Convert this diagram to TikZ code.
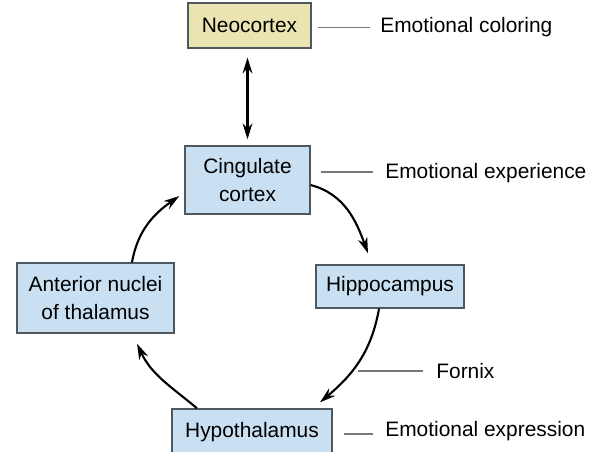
\documentclass[tikz,border=0pt]{standalone}
\usepackage{fontspec}
\setmainfont{Liberation Sans}
\usetikzlibrary{arrows.meta,calc}

\definecolor{r233g228b178}{RGB}{233,228,178}
\definecolor{r200g224b242}{RGB}{200,224,242}
\definecolor{r80g88b95}{RGB}{80,88,95}
\definecolor{r120g120b120}{RGB}{120,120,120}

\tikzset{
  regionbox/.style={draw=r80g88b95, line width=0.8pt, fill=r200g224b242,
    align=center, inner sep=0pt, font=\fontsize{11.9}{15.9}\selectfont},
  rolelabel/.style={anchor=west, inner sep=0pt, font=\fontsize{11.9}{15.9}\selectfont},
  tick/.style={draw=r120g120b120, line width=0.7pt},
  pathway/.style={line width=1.2pt, -{Stealth[length=9pt,width=5.5pt]}},
}

\begin{document}
\begin{tikzpicture}[x=0.02cm,y=0.02cm]
  \useasboundingbox (0,0) rectangle (597,451);

  % Drawing boxes of the circuit
  \node (neo) [regionbox, fill=r233g228b178, minimum width=2.46cm, minimum height=0.9cm] at (249.5,425.5) {Neocortex};
  \node (cing) [regionbox, minimum width=2.5cm, minimum height=1.36cm] at (247.5,271) {Cingulate\\cortex};
  \node (ant) [regionbox, minimum width=3.14cm, minimum height=1.4cm] at (95.5,153) {Anterior nuclei\\of thalamus};
  \node (hip) [regionbox, minimum width=2.96cm, minimum height=0.86cm] at (390,164.5) {Hippocampus};
  \node (hyp) [regionbox, minimum width=3.2cm, minimum height=0.92cm] at (252,19) {Hypothalamus};

  % Marking roles
  \node (col) [rolelabel] at (380,424) {Emotional coloring};
  \node (exper) [rolelabel] at (385,278) {Emotional experience};
  \node (fnx) [rolelabel] at (436,80) {Fornix};
  \node (expr) [rolelabel] at (385,20) {Emotional expression};

  % Drawing label ticks
  \draw [tick] ($(neo.east)+(6,-2)$) -- ($(neo.east -| col.west)+(-10,-2)$);
  \draw [tick] ($(cing.east)+(10,8)$) -- ($(cing.east -| exper.west)+(-12,8)$);
  \coordinate (fx) at (358,80);
  \draw [tick] (fx) -- (fx -| {$(fnx.west)+(-13,0)$});
  \draw [tick] ($(hyp.east)+(11,-2)$) -- ($(hyp.east -| expr.west)+(-12,-2)$);

  % Drawing double arrow neocortex - cingulate
  \draw [line width=1.4pt, {Stealth[length=9pt,width=5.5pt]}-{Stealth[length=9pt,width=5.5pt]},
    shorten <=5pt, shorten >=3.4pt] (cing.north |- neo.south) -- (cing.north);

  % Drawing the circuit
  \draw [pathway] ($(cing.east)+(0,-5)$) to[out=-15,in=110] ($(hip.north)+(-22,11)$);
  \draw [pathway] ($(hip.south)+(-11,0)$) to[out=-100,in=40] ($(hyp.north)+(68,6)$);
  \draw [pathway] ($(hyp.north)+(-55,0)$) to[out=140,in=-65] ($(ant.south)+(41.5,-10)$);
  \draw [pathway] ($(ant.north)+(36.5,0)$) to[out=80,in=-145] ($(cing.west)+(-5,-16)$);
\end{tikzpicture}
\end{document}
